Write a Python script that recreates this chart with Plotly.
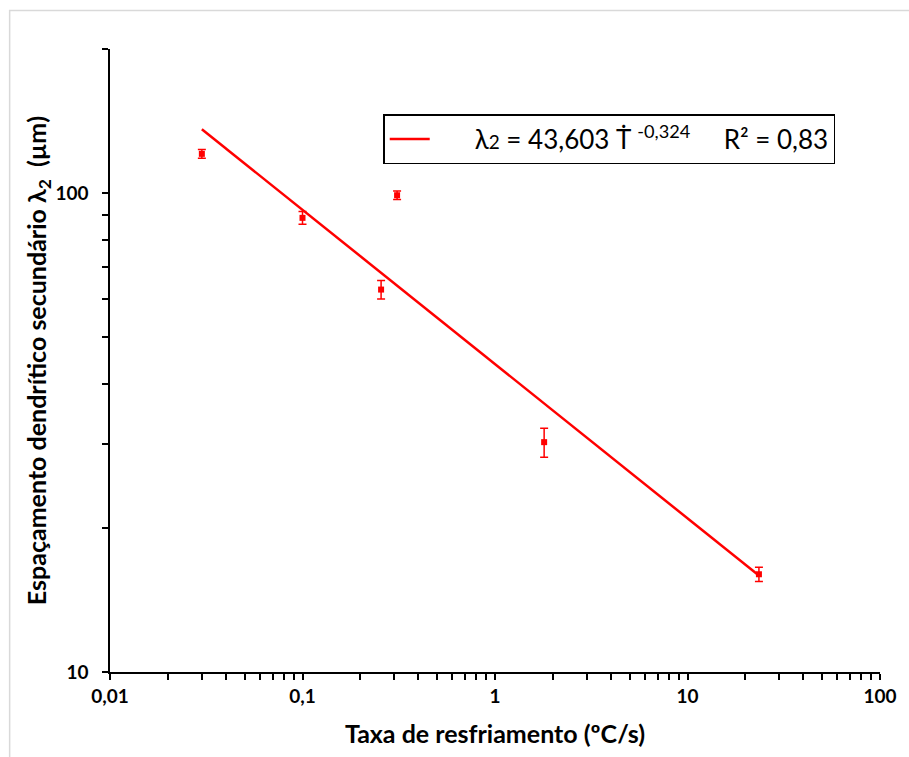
import plotly.graph_objects as go

# Data
cooling_rate = [0.03, 0.1, 0.256, 0.31, 1.8, 23.5]          # ºC/s
lambda2 = [120.8, 88.8, 62.9, 99.0, 30.2, 16.0]             # µm
lambda2_err = [2.5, 2.7, 2.8, 2.0, 2.1, 0.55]

# Power-law trendline endpoints (λ2 = 43,603 Ṫ^-0,324)
fit_x = [0.03, 23.5]
fit_y = [136.0, 15.9]

x_tickvals = [0.01, 0.1, 1, 10, 100]
x_ticktext = ["0,01", "0,1", "1", "10", "100"]
y_tickvals = [10, 100]
y_ticktext = ["10", "100"]

RED = "#ff0000"
FONT = "Lato"
NB = "\u00a0"

fig = go.Figure()
fig.add_trace(go.Scatter(
    x=fit_x, y=fit_y, mode="lines",
    line=dict(color=RED, width=2.5),
    name=NB * 6 + "λ<span style='font-size:19px'>2</span> = 43,603 Ṫ <sup>-0,324</sup>"
         + NB * 5 + "R² = 0,83",
    showlegend=True,
))
fig.add_trace(go.Scatter(
    x=cooling_rate, y=lambda2, mode="markers",
    marker=dict(symbol="square", size=6, color=RED),
    error_y=dict(type="data", array=lambda2_err, visible=True,
                 color=RED, thickness=1.5, width=4),
    showlegend=False,
))

W, H = 909, 757
ml, mr, mt, mb = 110, 24, 49, 85
pw, ph = W - ml - mr, H - mt - mb

def px_x(p):
    return (p - ml) / pw

def px_y(p):
    return (H - mb - p) / ph

minor = dict(ticks="outside", ticklen=6, tickwidth=1.5, tickcolor="black",
             dtick="D1", showgrid=False)

fig.update_layout(
    width=W, height=H,
    margin=dict(l=ml, r=mr, t=mt, b=mb),
    paper_bgcolor="white", plot_bgcolor="white",
    font=dict(family=FONT, color="black"),
    separators=",.",
    showlegend=True,
    legend=dict(
        x=px_x(385), y=px_y(114), xanchor="left", yanchor="top",
        bordercolor="black", borderwidth=1.5, bgcolor="white",
        font=dict(family=FONT, size=26, color="black"),
        itemwidth=40,
    ),
    xaxis=dict(
        type="log", range=[-2, 2],
        tickmode="array", tickvals=x_tickvals, ticktext=x_ticktext,
        ticks="outside", ticklen=6, tickwidth=1.5, tickcolor="black",
        minor=minor,
        showline=True, linecolor="black", linewidth=1.5,
        showgrid=False, zeroline=False, automargin=True,
        tickfont=dict(family=FONT, size=19, color="black", weight="bold"),
        title=dict(text="<b>Taxa de resfriamento (ºC/s)</b>",
                   font=dict(family=FONT, size=25, color="black"), standoff=20),
    ),
    yaxis=dict(
        type="log", range=[1, 2.30103],
        tickmode="array", tickvals=y_tickvals, ticktext=y_ticktext,
        ticks="outside", ticklen=6, tickwidth=1.5, tickcolor="black",
        ticklabelposition="outside", ticklabelstandoff=10,
        minor=minor,
        showline=True, linecolor="black", linewidth=1.5,
        showgrid=False, zeroline=False, automargin=True,
        tickfont=dict(family=FONT, size=19, color="black", weight="bold"),
        title=dict(text="<b>Espaçamento dendrítico secundário λ<sub>2</sub>  (µm)</b>",
                   font=dict(family=FONT, size=25, color="black"), standoff=0),
    ),
    shapes=[dict(type="rect", xref="paper", yref="paper",
                 x0=px_x(9), x1=px_x(W + 20), y0=px_y(H + 20), y1=px_y(10.5),
                 line=dict(color="#d9d9d9", width=1.5), fillcolor="rgba(0,0,0,0)",
                 layer="below")],
)

fig.write_html("out.html")
